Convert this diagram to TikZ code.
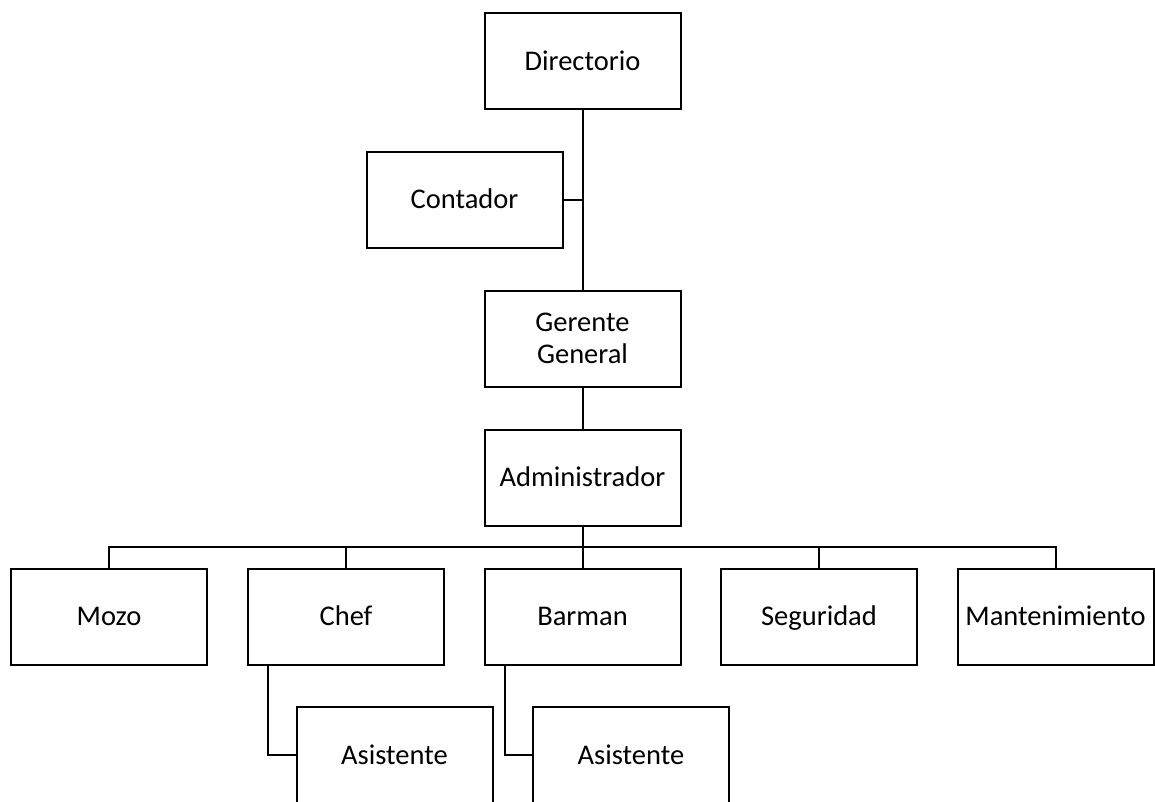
\documentclass[tikz,border=0pt]{standalone}
\usepackage{fontspec}
\setmainfont{Carlito}
\begin{document}
\begin{tikzpicture}[x=1pt,y=-1pt,
  box/.style={draw=black,line width=2pt,minimum width=196pt,minimum height=96pt,inner sep=0pt,
    font=\fontsize{28.5}{32}\selectfont,align=center,anchor=center},
  one/.style={box,text height=18.3pt,text depth=0pt},
  link/.style={draw=black,line width=2pt}]
\useasboundingbox (0,0) rectangle (1155,801);
\clip (0,0) rectangle (1155,801);
\node[one] (dir) at (582.5,61) {Directorio};
\node[one] (cont) at (464.5,199.5) {Contador};
\node[box] (ger) at (582.5,338.5) {Gerente\\General};
\node[one] (adm) at (582.5,477.5) {Administrador};
\node[one] (mozo) at (109,616.5) {Mozo};
\node[one] (chef) at (346,616.5) {Chef};
\node[one] (bar) at (582.5,616.5) {Barman};
\node[one] (seg) at (819,616.5) {Seguridad};
\node[one] (mant) at (1055.5,616.5) {Mantenimiento};
\node[one] (asi1) at (394.5,755) {Asistente};
\node[one] (asi2) at (631,755) {Asistente};
\coordinate (bus) at (582.5,547);
\draw[link] (dir.south) -- (ger.north);
\draw[link] (cont.east) -- (cont.east -| dir.south);
\draw[link] (ger.south) -- (adm.north);
\draw[link] (adm.south) -- (bar.north);
\draw[link] (mozo.north) -- (mozo.north |- bus) -- (mant.north |- bus) -- (mant.north);
\draw[link] (chef.north) -- (chef.north |- bus);
\draw[link] (seg.north) -- (seg.north |- bus);
\draw[link] ([xshift=21pt]chef.south west) |- (asi1.west);
\draw[link] ([xshift=21pt]bar.south west) |- (asi2.west);
\end{tikzpicture}
\end{document}
